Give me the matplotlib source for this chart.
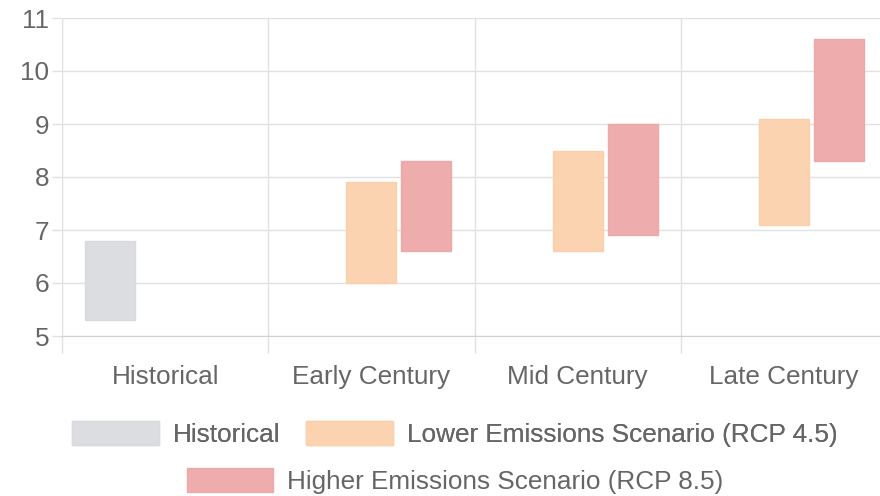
import matplotlib
matplotlib.use("Agg")
import matplotlib.pyplot as plt
import numpy as np

categories = ["Historical", "Early Century", "Mid Century", "Late Century"]
series_names = ["Historical", "Lower Emissions Scenario (RCP 4.5)", "Higher Emissions Scenario (RCP 8.5)"]
hist_low = [5.3, np.nan, np.nan, np.nan]
hist_high = [6.8, np.nan, np.nan, np.nan]
rcp45_low = [np.nan, 6.0, 6.6, 7.1]
rcp45_high = [np.nan, 7.9, 8.5, 9.1]
rcp85_low = [np.nan, 6.6, 6.9, 8.3]
rcp85_high = [np.nan, 8.3, 9.0, 10.6]
y_ticks = [5, 6, 7, 8, 9, 10, 11]

colors = ["#dcdde0", "#fbd3b1", "#eeacad"]
edge = ["#d9dadd", "#fad0ab", "#eda8a9"]
text_color = "#666666"
plt.rcParams['font.family'] = ['Liberation Sans', 'DejaVu Sans']

W, H = 880, 496
fig = plt.figure(figsize=(W / 100, H / 100), dpi=100)
left, right, top, bottom = 62, 887, 18, 336
ax = fig.add_axes([left / W, 1 - bottom / H, (right - left) / W, (bottom - top) / H])

x = np.arange(len(categories))
cw = (right - left) / len(categories)
off = 55 / cw
bw = 50 / cw
lows = [hist_low, rcp45_low, rcp85_low]
highs = [hist_high, rcp45_high, rcp85_high]
handles = []
for i in range(3):
    lo = np.array(lows[i], dtype=float)
    hi = np.array(highs[i], dtype=float)
    b = ax.bar(x + (i - 1) * off, hi - lo, bottom=lo, width=bw, color=colors[i],
               edgecolor=edge[i], linewidth=1, label=series_names[i], zorder=3)
    handles.append(b)

ax.set_xlim(-0.5, len(categories) - 0.5)
ax.set_ylim(5, 11)
ax.set_yticks(y_ticks)
ax.set_yticklabels([str(t) for t in y_ticks])
ax.set_xticks(x)
ax.set_xticklabels(categories)
ax.set_xticks(np.arange(len(categories) + 1) - 0.5, minor=True)

fs = 18.8
ax.grid(axis='y', color='#e1e1e1', linewidth=1, zorder=0)
ax.grid(axis='x', which='minor', color='#e1e1e1', linewidth=1, zorder=0)
ax.tick_params(axis='x', which='major', length=0, pad=21, labelsize=fs, labelcolor=text_color)
ax.tick_params(axis='x', which='minor', length=12.2, color='#e1e1e1', width=1)
ax.tick_params(axis='y', length=7.2, color='#e1e1e1', width=1, pad=2, labelsize=fs, labelcolor=text_color)
for s in ['top', 'right']:
    ax.spines[s].set_visible(False)
ax.spines['left'].set_color('#e1e1e1')
ax.spines['bottom'].set_color('#d0d0d0')

common = dict(frameon=False, fontsize=fs, labelcolor=text_color, handlelength=3.3,
              handleheight=1.0, handletextpad=0.55, columnspacing=1.0, borderpad=0, loc='center')
leg1 = fig.legend(handles[:2], series_names[:2], ncol=2, bbox_to_anchor=(455 / W, 1 - 434 / H), **common)
fig.add_artist(leg1)
leg2 = fig.legend(handles[2:], series_names[2:], ncol=1, bbox_to_anchor=(455 / W, 1 - 481 / H), **common)

fig.savefig("out.png", dpi=100)
